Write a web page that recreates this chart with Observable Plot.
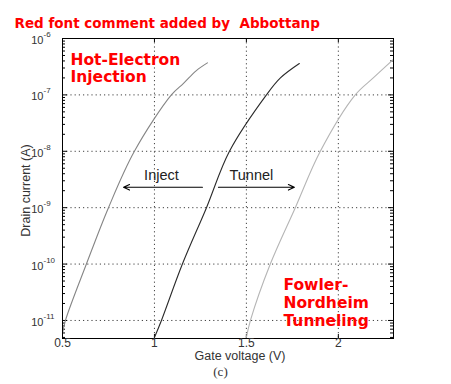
<!DOCTYPE html>
<html><head><meta charset="utf-8">
<script src="https://cdn.jsdelivr.net/npm/d3@7"></script>
<script src="https://cdn.jsdelivr.net/npm/@observablehq/plot@0.6"></script>
<style>body{margin:0;background:#fff}</style>
</head><body><div id="chart"></div>
<script>
// Gate voltage (V) and drain current (A) for the three curves
const vgLeft   = [0.5, 0.516, 0.63, 0.75, 0.891, 1.092, 1.158, 1.228, 1.288];
const idLeft   = [5.9e-12, 1e-11, 1e-10, 1e-9, 1e-8, 1e-7, 1.6e-7, 2.7e-7, 3.7e-7];
const vgMid    = [1.0, 1.038, 1.152, 1.283, 1.408, 1.609, 1.685, 1.788];
const idMid    = [5e-12, 1e-11, 1e-10, 1e-9, 1e-8, 1e-7, 2e-7, 3.6e-7];
const vgRight  = [1.5, 1.522, 1.63, 1.766, 1.902, 2.092, 2.19, 2.3];
const idRight  = [5e-12, 1e-11, 1e-10, 1e-9, 1e-8, 1e-7, 2e-7, 4.3e-7];

// Axis ticks
const xTicks = [0.5, 1, 1.5, 2];
const xTickLabels = ["0.5", "1", "1.5", "2"];
const yExponents = [-6, -7, -8, -9, -10, -11];

// Annotations (data coordinates)
const arrowLabels = ["Inject", "Tunnel"];
const arrowFrom = [1.261, 1.348];
const arrowTo = [0.832, 1.761];
const arrowCurrent = 2.3e-9;
const labelVg = [1.038, 1.527];
const labelCurrent = 3.7e-9;

const W = 451, H = 384, mL = 62, mR = 58, mT = 38, mB = 46;
const FW = W - mL - mR, FH = H - mT - mB;

const series = [
  {vg: vgLeft, id: idLeft, color: "#858585"},
  {vg: vgMid, id: idMid, color: "#2a2a2a"},
  {vg: vgRight, id: idRight, color: "#b5b5b5"}
];
const yMajor = yExponents.map(e => 10 ** e);
const yMinor = [];
for (let e = -12; e <= -7; e++) for (let m = 2; m <= 9; m++) {
  const v = m * 10 ** e;
  if (v >= 10 ** -11.32 && v <= 1e-6) yMinor.push(v);
}
const xInner = [1, 1.5, 2];
const arrows = arrowLabels.map((l, i) => ({x1: arrowFrom[i], x2: arrowTo[i], y: arrowCurrent}));
const labels = arrowLabels.map((l, i) => ({x: labelVg[i], y: labelCurrent, t: l}));
const red = "#ff0000";
const redFont = "DejaVu Sans";

const marks = [
  Plot.gridX(xInner, {stroke: "#000", strokeOpacity: 0.75, strokeDasharray: "1.2,3"}),
  Plot.gridY(yMajor.slice(1), {stroke: "#000", strokeOpacity: 0.75, strokeDasharray: "1.2,3"}),
  // inward ticks
  Plot.tickY(yMajor, {insetRight: FW - 5, stroke: "#000"}),
  Plot.tickY(yMinor, {insetRight: FW - 3, stroke: "#000"}),
  Plot.tickY(yMajor, {insetLeft: FW - 5, stroke: "#000"}),
  Plot.tickY(yMinor, {insetLeft: FW - 3, stroke: "#000"}),
  Plot.tickX(xInner, {insetTop: FH - 4, stroke: "#000"}),
  Plot.tickX(xInner, {insetBottom: FH - 4, stroke: "#000"}),
  ...series.map(s => Plot.line(s.vg.map((v, i) => ({x: v, y: s.id[i]})),
    {x: "x", y: "y", stroke: s.color, strokeWidth: 1.1, curve: "catmull-rom", clip: true})),
  Plot.frame({stroke: "#000", strokeWidth: 1}),
  Plot.arrow(arrows, {x1: "x1", x2: "x2", y1: "y", y2: "y", stroke: "#000", strokeWidth: 1.1, headLength: 9, headAngle: 50}),
  Plot.text(labels, {x: "x", y: "y", text: "t", fontSize: 14.5, fill: "#222"}),
  // y tick labels
  Plot.text(yMajor, {y: d => d, text: () => "10", frameAnchor: "left", textAnchor: "end", dx: -19, dy: 2, fontSize: 11, fill: "#333"}),
  Plot.text(yMajor, {y: d => d, text: d => String(Math.round(Math.log10(d))), frameAnchor: "left", textAnchor: "start", dx: -19, dy: -4, fontSize: 8, fill: "#333"}),
  // x tick labels
  Plot.text(xTicks, {x: d => d, text: (d, i) => xTickLabels[i], frameAnchor: "bottom", dy: 8, fontSize: 12, fill: "#333"}),
  // axis labels
  Plot.text(["Gate voltage (V)"], {frameAnchor: "bottom", textAnchor: "middle", dx: 12, dy: 21, fontSize: 12.5, fill: "#333"}),
  Plot.text(["Drain current (A)"], {frameAnchor: "left", textAnchor: "middle", dx: -37, dy: 2, rotate: -90, fontSize: 12.5, fill: "#333"}),
  Plot.text(["(c)"], {frameAnchor: "bottom", textAnchor: "middle", dx: -7.5, dy: 37.5, fontSize: 13, fontFamily: "Liberation Serif", fill: "#333"}),
  // red comments
  Plot.text(["Red font comment added by \u00a0Abbottanp"], {frameAnchor: "top-left", textAnchor: "start", dx: -48, dy: -20, fontSize: 13.5, fontWeight: "bold", fontFamily: redFont, fill: red}),
  Plot.text(["Hot-Electron\nInjection"], {frameAnchor: "top-left", textAnchor: "start", lineAnchor: "top", lineHeight: 1.13, dx: 8, dy: 14, fontSize: 15.5, fontWeight: "bold", fontFamily: redFont, fill: red}),
  Plot.text(["Fowler-\nNordheim\nTunneling"], {frameAnchor: "top-left", textAnchor: "start", lineAnchor: "top", lineHeight: 1.15, dx: 221, dy: 239, fontSize: 15.5, fontWeight: "bold", fontFamily: redFont, fill: red})
];

const chart = Plot.plot({
  width: W, height: H,
  marginLeft: mL, marginRight: mR, marginTop: mT, marginBottom: mB,
  style: {fontFamily: "Liberation Sans, Arial, sans-serif", background: "#fff", overflow: "visible"},
  x: {type: "linear", domain: [0.5, 2.3], axis: null},
  y: {type: "log", domain: [10 ** -11.32, 1e-6], axis: null},
  marks
});
document.getElementById("chart").append(chart);
</script>
</body></html>
